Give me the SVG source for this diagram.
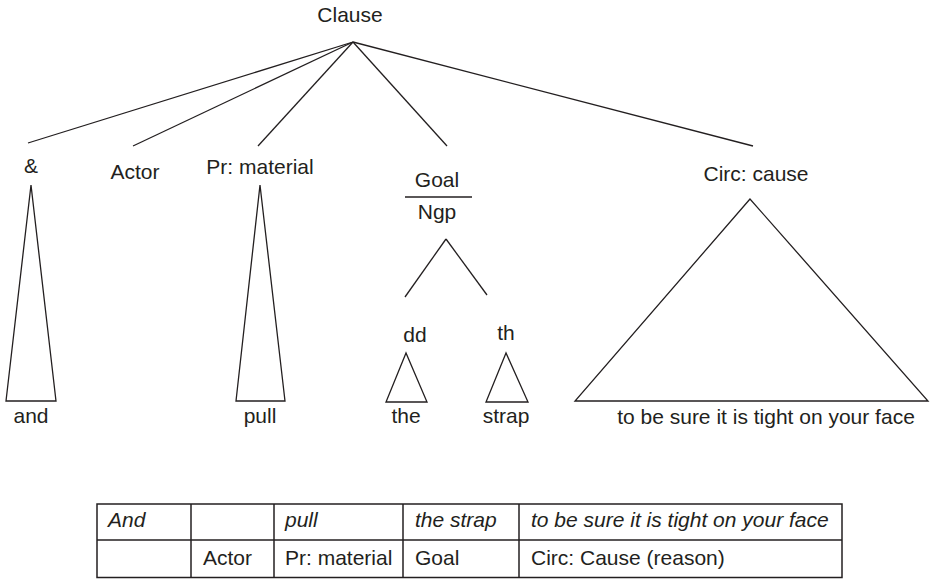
<svg xmlns="http://www.w3.org/2000/svg" width="931" height="580" viewBox="0 0 931 580">
<style>
text{font-family:"Liberation Sans",Arial,sans-serif;font-size:21px;fill:#231f20}
.m{text-anchor:middle}
.i{font-style:italic}
.ln{stroke:#231f20;stroke-width:1.3;fill:none}
.tb{stroke:#231f20;stroke-width:1.5;fill:none}
</style>
<rect width="931" height="580" fill="#fff"/>
<g id="connectors">
<line class="ln" x1="353" y1="42" x2="28" y2="143"/>
<line class="ln" x1="353" y1="42" x2="133" y2="146"/>
<line class="ln" x1="353" y1="42" x2="258" y2="146"/>
<line class="ln" x1="353" y1="42" x2="447" y2="146"/>
<line class="ln" x1="353" y1="42" x2="753" y2="146"/>
<line class="ln" x1="446" y1="239" x2="405" y2="297"/>
<line class="ln" x1="446" y1="239" x2="487" y2="295"/>
</g>
<g id="clause"><text class="m" x="350" y="22">Clause</text></g>
<g id="amp">
<text class="m" x="31" y="173">&amp;</text>
<polygon class="ln" points="31,185 6,401 56,401"/>
<text class="m" x="31" y="423">and</text>
</g>
<g id="actor"><text class="m" x="135" y="179">Actor</text></g>
<g id="pr">
<text class="m" x="260" y="174">Pr: material</text>
<polygon class="ln" points="260,185 236,401 285,401"/>
<text class="m" x="260" y="423">pull</text>
</g>
<g id="goal">
<text class="m" x="437" y="187">Goal</text>
<line class="ln" x1="405" y1="197" x2="472" y2="197"/>
<text class="m" x="437" y="219">Ngp</text>
</g>
<g id="dd">
<text class="m" x="415" y="342">dd</text>
<polygon class="ln" points="406,353 386,402 427,402"/>
<text class="m" x="406" y="423">the</text>
</g>
<g id="th">
<text class="m" x="506" y="340">th</text>
<polygon class="ln" points="506,353 486,402 528,402"/>
<text class="m" x="506" y="423">strap</text>
</g>
<g id="circ">
<text class="m" x="756" y="181">Circ: cause</text>
<polygon class="ln" points="750,199 575,401 928,401"/>
<text class="m" x="766" y="424">to be sure it is tight on your face</text>
</g>
<g id="table">
<rect class="tb" x="97" y="504" width="745" height="73.5"/>
<line class="tb" x1="97" y1="540" x2="842" y2="540"/>
<line class="tb" x1="191" y1="504" x2="191" y2="577.5"/>
<line class="tb" x1="274" y1="504" x2="274" y2="577.5"/>
<line class="tb" x1="403" y1="504" x2="403" y2="577.5"/>
<line class="tb" x1="519" y1="504" x2="519" y2="577.5"/>
<text class="i" x="108" y="527">And</text>
<text class="i" x="285" y="527">pull</text>
<text class="i" x="415" y="527">the strap</text>
<text class="i" x="531" y="527">to be sure it is tight on your face</text>
<text x="203" y="565">Actor</text>
<text x="285" y="565">Pr: material</text>
<text x="415" y="565">Goal</text>
<text x="531" y="565">Circ: Cause (reason)</text>
</g>
</svg>
